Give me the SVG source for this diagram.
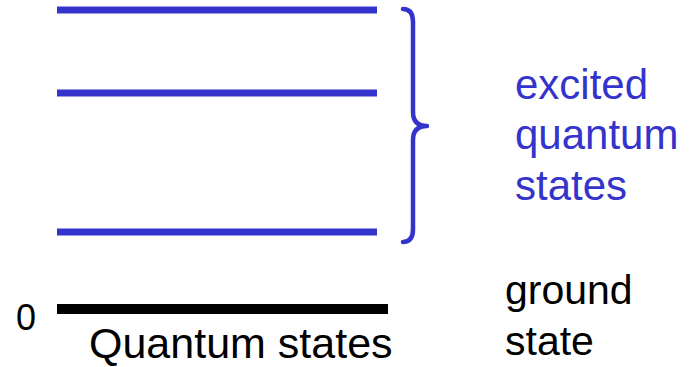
<svg xmlns="http://www.w3.org/2000/svg" width="697" height="367" viewBox="0 0 697 367">
<style>
.lvl{stroke:#3434cc;stroke-width:7;fill:none}
.gnd{stroke:#000;stroke-width:10;fill:none}
.brace{stroke:#3434cc;stroke-width:4.5;fill:none;stroke-linecap:round;stroke-linejoin:round}
text{font-family:"Liberation Sans",Arial,sans-serif}
.blue{fill:#3434cc;font-size:42px}
.blk{fill:#000;font-size:41px}
.zero{fill:#000;font-size:36px}
.axis{fill:#000;font-size:43px}
</style>
<rect width="697" height="367" fill="#fff"/>
<g id="level-excited-3"><line class="lvl" x1="57" y1="10" x2="377" y2="10"/></g>
<g id="level-excited-2"><line class="lvl" x1="57" y1="93" x2="377" y2="93"/></g>
<g id="level-excited-1"><line class="lvl" x1="57" y1="232" x2="377" y2="232"/></g>
<g id="level-ground">
<line class="gnd" x1="57" y1="309" x2="388" y2="309"/>
<text class="zero" x="16" y="330">0</text>
</g>
<g id="brace"><path class="brace" d="M403,9 Q413,9 413,22 L413,112 Q413,126 427,126 Q413,126 413,140 L413,229 Q413,242 403,242"/></g>
<g id="label-excited">
<text class="blue" x="515" y="99">excited</text>
<text class="blue" x="515" y="149">quantum</text>
<text class="blue" x="515" y="200">states</text>
</g>
<g id="label-ground">
<text class="blk" x="505" y="304">ground</text>
<text class="blk" x="505" y="355">state</text>
</g>
<g id="axis-label"><text class="axis" x="89" y="358">Quantum states</text></g>
</svg>
